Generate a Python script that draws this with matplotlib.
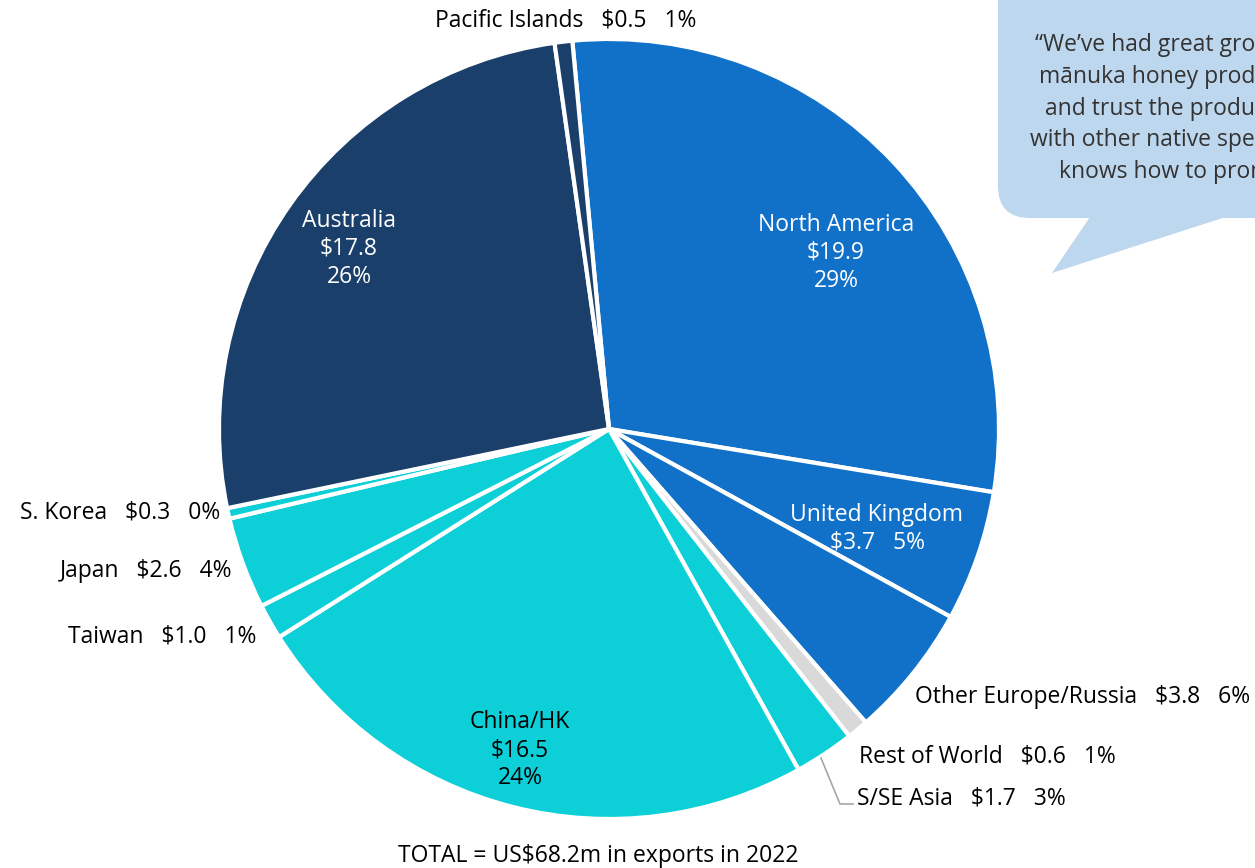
import matplotlib.pyplot as plt
from matplotlib.patches import FancyBboxPatch, Polygon
from matplotlib import rcParams

rcParams['font.family'] = ['Open Sans', 'DejaVu Sans']

# export value by market, US$m (2022), clockwise from the top
markets = ['North America', 'United Kingdom', 'Other Europe/Russia', 'Rest of World',
           'S/SE Asia', 'China/HK', 'Taiwan', 'Japan', 'S. Korea', 'Australia',
           'Pacific Islands']
values = [19.9, 3.7, 3.8, 0.6, 1.7, 16.5, 1.0, 2.6, 0.3, 17.8, 0.5]
shares = [29, 5, 6, 1, 3, 24, 1, 4, 0, 26, 1]
colors = ['#1170C8', '#1170C8', '#1170C8', '#D9D9D9', '#0DCFD8', '#0DCFD8',
          '#0DCFD8', '#0DCFD8', '#0DCFD8', '#1B3F6B', '#1B3F6B']
total_label = 'TOTAL = US$68.2m in exports in 2022'
quote = ['\u201cWe\u2019ve had great growth with',
         'm\u0101nuka honey products. People know',
         'and trust the product, and we can',
         'with other native species. The market',
         'knows how to promote them.\u201d']

W, H = 1255, 868
fig = plt.figure(figsize=(W / 100, H / 100), dpi=100)
ax = fig.add_axes([0, 0, 1, 1])

def Y(y):
    # y measured from the top edge -> axes y
    return H - y

cx, cy, r = 609, Y(429), 390
ax.pie(values, colors=colors, startangle=95.4, counterclock=False,
       center=(cx, cy), radius=r,
       wedgeprops=dict(edgecolor='white', linewidth=3))

fs = 16.5
gap = '   '
lab = {m: (v, s) for m, v, s in zip(markets, values, shares)}

def amt(m):
    v, s = lab[m]
    return f'${v:.1f}', f'{s}%'

# labels inside the big slices
for m, x, y, col in [('Australia', 349, 249, 'white'),
                     ('North America', 836, 253, 'white'),
                     ('China/HK', 520, 750, 'black')]:
    a, p = amt(m)
    ax.text(x, Y(y), f'{m}\n{a}\n{p}', ha='center', va='center', color=col,
            fontsize=fs, linespacing=1.22)

a, p = amt('United Kingdom')
ax.text(877, Y(529), f'United Kingdom\n{a}{gap}{p}', ha='center', va='center',
        color='white', fontsize=fs, linespacing=1.22)

# outside labels
outside = [('Pacific Islands', 566, 21, 'center'),
           ('S. Korea', 220, 512, 'right'),
           ('Japan', 232, 571, 'right'),
           ('Taiwan', 256, 636, 'right'),
           ('Other Europe/Russia', 915, 697, 'left'),
           ('Rest of World', 859, 756, 'left'),
           ('S/SE Asia', 857, 798, 'left')]
for m, x, y, ha in outside:
    a, p = amt(m)
    ax.text(x, Y(y), f'{m}{gap}{a}{gap}{p}', ha=ha, va='center', fontsize=fs,
            color='black')

# leader line for S/SE Asia
ax.plot([821, 840, 853], [Y(758), Y(804), Y(804)], color='#A6A6A6', lw=1.2)

ax.text(598, Y(856), total_label, ha='center', va='center', fontsize=fs)

# speech bubble, running off the right edge
bubble = FancyBboxPatch((998, Y(218)), 400, 260,
                        boxstyle='round,pad=0,rounding_size=32',
                        fc='#BDD7EE', ec='none')
ax.add_patch(bubble)
ax.add_patch(Polygon([(1092, Y(214)), (1052, Y(273)), (1235, Y(214))],
                     closed=True, fc='#BDD7EE', ec='none'))
for line, x, y in zip(quote, [1035, 1039, 1045, 1030, 1059],
                      [45, 77, 109, 140, 172]):
    ax.text(x, Y(y), line, ha='left', va='center', fontsize=fs, color='#333333',
            clip_on=True)

ax.set_xlim(0, W)
ax.set_ylim(0, H)
ax.set_aspect('equal')
ax.axis('off')

fig.savefig('out.png', dpi=100)
